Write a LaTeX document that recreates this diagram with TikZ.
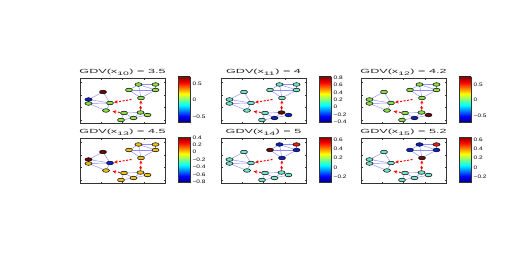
\documentclass[tikz,border=0pt]{standalone}
\usepackage{fontspec}
\usepackage{xcolor}
\usepackage{tikz}
\usetikzlibrary{arrows.meta,shapes.geometric,backgrounds}
\newfontfamily\gdvfont[FakeStretch=2.1]{Liberation Sans}
\newfontfamily\cbfont[FakeStretch=1.3]{Liberation Sans}
\definecolor{jetdb}{rgb}{0,0,0.5}
\definecolor{jetdr}{rgb}{0.5,0,0}
\definecolor{ndr}{rgb}{0.42,0.04,0.04}
\definecolor{nbl}{rgb}{0.05,0.12,0.8}
\definecolor{ngr}{rgb}{0.55,0.88,0.3}
\definecolor{ncy}{rgb}{0.45,0.9,0.8}
\definecolor{nye}{rgb}{0.95,0.75,0.1}
\definecolor{nrd}{rgb}{0.92,0.12,0.05}
\pgfdeclareverticalshading{jetbar}{100bp}{color(0bp)=(jetdb); color(25bp)=(jetdb);
  color(31.25bp)=(blue); color(43.75bp)=(cyan); color(56.25bp)=(yellow);
  color(68.75bp)=(red); color(75bp)=(jetdr); color(100bp)=(jetdr)}
\tikzset{
  axbox/.style    = {draw=black!80, line width=0.4pt},
  vtx/.style      = {draw, ellipse, minimum width=7pt, minimum height=3.6pt,
                     inner sep=0pt, line width=0.5pt},
  link/.style     = {draw=blue!45, line width=0.45pt},
  red arr/.style  = {-{Stealth[length=3.5pt,width=3.2pt]}, red, line width=1pt,
                     dash pattern=on 2pt off 1.5pt},
  gdv title/.style= {font=\gdvfont\fontsize{6}{7}\selectfont, inner sep=0pt,
                     text=black!85},
  cb label/.style = {font=\cbfont\fontsize{5}{6}\selectfont, anchor=west,
                     inner sep=0pt},
}
% #1 id, #2 #3 corner, #4 title, #5 vertex colours, #6 #7 #8 colour bar labels
\newcommand{\gdvpanel}[8]{%
  \begin{scope}[shift={(#2,#3)}]
    \draw[axbox] (0,0) rectangle (85,45);
    \foreach \t in {4.5,17,29.5,42}
      \draw[axbox] (0,\t) -- ++(1.5,0) (85,\t) -- ++(-1.5,0);
    \foreach \t in {21,42.5,64}
      \draw[axbox] (\t,45) -- ++(0,-1.5) (\t,0) -- ++(0,1.5);
    \node[gdv title] (#1title) at (42.5,-5.5) {#4};
    \foreach \nm/\px/\py in {A/23/14,B/8.5/21.5,C/8.5/25.5,D/30/25,E/26/32.5,
        F/49/12,G/58.5/6.5,H/75.5/6.5,I/75.5/12,J/61/20,
        L/44/35,M/60.5/34.5,N/67.5/37,O/53.5/40,P/41/42}
      \coordinate (#1p\nm) at (\px,\py);
    \foreach \nm/\col in {#5}
      \node[vtx, fill=\col] (#1\nm) at (#1p\nm) {};
    \begin{scope}[on background layer]
      \foreach \a/\b in {A/B,A/D,B/C,B/D,C/D,C/E,D/E,F/G,G/H,G/I,H/I,F/I,F/J,
          G/J,I/J,L/M,L/O,L/P,M/N,M/O,N/O,O/P}
        \draw[link] (#1\a) -- (#1\b);
    \end{scope}
    \draw[red arr, shorten <=6pt, shorten >=0.5pt] (#1J) -- (#1D);
    \draw[red arr, {Stealth[length=3pt,width=3pt]}-{Stealth[length=3pt,width=3pt]},
          shorten <=0.5pt, shorten >=0.5pt] (#1J) -- (#1M);
    \draw[red arr, shorten <=0.5pt, shorten >=3pt] (#1L) -- (#1E);
    %% colour bar
    \shade[shading=jetbar] (98,-1) rectangle (110,44);
    \draw[axbox] (98,-1) rectangle (110,44);
    \foreach \v [count=\k from 0] in {#8}
      \node[cb label] (#1cb\k) at (112.5,{#6+\k*#7}) {\v};
  \end{scope}}

\begin{document}
\begin{tikzpicture}[x=1pt, y=-1pt]
  \useasboundingbox (0,0) rectangle (530,270);

  %% --- top row ---------------------------------------------------
  \gdvpanel{pa}{80}{78}{GDV(x\textsubscript{10}) = 3.5}
    {A/ndr,B/nbl,C/ngr,D/ngr,E/ngr,F/ngr,G/ngr,H/ngr,I/ngr,J/ngr,L/ngr,M/ngr,N/ngr,O/ngr,P/ngr}
    {5.5}{16.5}{0.5,0,−0.5}
  \gdvpanel{pb}{221}{78}{GDV(x\textsubscript{11}) = 4}
    {A/ncy,B/ncy,C/ncy,D/ncy,E/ncy,F/ncy,G/ncy,H/ncy,I/ncy,J/ncy,L/ncy,M/ndr,N/nbl,O/nbl,P/ncy}
    {-0.5}{7.4}{0.8,0.6,0.4,0.2,0,−0.2,−0.4}
  \gdvpanel{pc}{361}{78}{GDV(x\textsubscript{12}) = 4.2}
    {A/ngr,B/ngr,C/ngr,D/ngr,E/ngr,F/ngr,G/ngr,H/ngr,I/ngr,J/ngr,L/ngr,M/ngr,N/ndr,O/nbl,P/ngr}
    {6.5}{15.5}{0.5,0,−0.5}

  %% --- bottom row ------------------------------------------------
  \gdvpanel{pd}{80}{138}{GDV(x\textsubscript{13}) = 4.5}
    {A/ndr,B/ndr,C/nye,D/nbl,E/nye,F/nye,G/nye,H/nye,I/nye,J/nye,L/nye,M/nye,N/nye,O/nye,P/nye}
    {-0.7}{7.4}{0.4,0.2,0,−0.2,−0.4,−0.6,−0.8}
  \gdvpanel{pe}{221}{138}{GDV(x\textsubscript{14}) = 5}
    {A/ncy,B/ncy,C/ncy,D/ncy,E/ncy,F/ndr,G/nbl,H/nrd,I/nbl,J/nbl,L/ncy,M/ncy,N/ncy,O/ncy,P/ncy}
    {2}{9.1}{0.6,0.4,0.2,0,−0.2}
  \gdvpanel{pf}{361}{138}{GDV(x\textsubscript{15}) = 5.2}
    {A/ncy,B/ncy,C/ncy,D/ncy,E/ncy,F/nbl,G/nbl,H/nrd,I/nbl,J/ndr,L/ncy,M/ncy,N/ncy,O/ncy,P/ncy}
    {2}{9.1}{0.6,0.4,0.2,0,−0.2}
\end{tikzpicture}
\end{document}
